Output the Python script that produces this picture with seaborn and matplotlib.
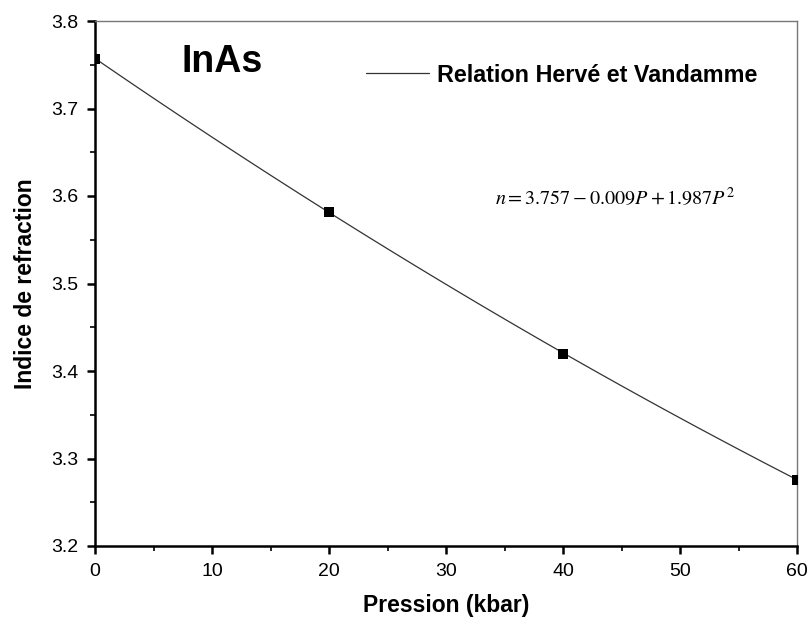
import numpy as np
import pandas as pd
import matplotlib
matplotlib.use("Agg")
import matplotlib.pyplot as plt
from matplotlib.ticker import MultipleLocator
import seaborn as sns

# Refractive index of InAs versus pressure (Hervé & Vandamme relation)
pression = [0, 20, 40, 60]
indice = [3.757, 3.582, 3.420, 3.276]
x_ticks = [0, 10, 20, 30, 40, 50, 60]
y_ticks = [3.2, 3.3, 3.4, 3.5, 3.6, 3.7, 3.8]

df = pd.DataFrame({"P": pression, "n": indice})

sns.set_style("ticks")
plt.rcParams["font.family"] = ["Liberation Sans", "DejaVu Sans"]
plt.rcParams["mathtext.fontset"] = "stix"
plt.rcParams["text.color"] = "black"
plt.rcParams["axes.labelcolor"] = "black"
plt.rcParams["xtick.color"] = "black"
plt.rcParams["ytick.color"] = "black"

fig = plt.figure(figsize=(8.11, 6.23), dpi=100)
ax = fig.add_axes([95 / 811, 1 - 546 / 623, (797 - 95) / 811, (546 - 21) / 623])

sns.regplot(
    data=df, x="P", y="n", order=2, ci=None, truncate=True, ax=ax,
    marker="s",
    scatter_kws=dict(s=45, color="black", edgecolor="black", linewidths=0, alpha=1, zorder=3),
    line_kws=dict(color="#333333", lw=0.9, label="Relation Hervé et Vandamme", zorder=2),
)

ax.set_xlim(0, 60)
ax.set_ylim(3.2, 3.8)
ax.set_xticks(x_ticks)
ax.set_yticks(y_ticks)
ax.set_xticklabels([str(t) for t in x_ticks])
ax.set_yticklabels([f"{t:.1f}" for t in y_ticks])
ax.xaxis.set_minor_locator(MultipleLocator(5))
ax.yaxis.set_minor_locator(MultipleLocator(0.05))

ax.tick_params(which="major", direction="out", length=6, width=1.8, color="black",
               labelsize=14, labelcolor="black", pad=6)
ax.tick_params(which="minor", direction="out", length=3.5, width=1.2, color="black")
ax.tick_params(top=False, right=False, which="both")

for side in ("left", "bottom"):
    ax.spines[side].set_color("black")
    ax.spines[side].set_linewidth(1.8)
for side in ("top", "right"):
    ax.spines[side].set_visible(True)
    ax.spines[side].set_color("#777777")
    ax.spines[side].set_linewidth(1.0)

ax.set_xlabel("Pression (kbar)", fontsize=16.5, fontweight="bold", labelpad=10)
ax.set_ylabel("Indice de refraction", fontsize=16.5, fontweight="bold", labelpad=10)

ax.text(182 / 811, 1 - 62 / 623, "InAs", transform=fig.transFigure,
        fontsize=27, fontweight="bold", ha="left", va="center")

ax.text(495 / 811, 1 - 198 / 623, r"$n = 3.757 - 0.009P + 1.987P^{2}$",
        transform=fig.transFigure, fontsize=14.5, ha="left", va="center")

line = ax.get_lines()[0]
ax.legend(handles=[line], loc="center left", bbox_to_anchor=(366 / 811, 1 - 75 / 623),
          bbox_transform=fig.transFigure, frameon=False, borderpad=0, borderaxespad=0,
          handlelength=2.7, handletextpad=0.35,
          prop=dict(family="Liberation Sans", weight="bold", size=16.8))

fig.savefig("out.png", dpi=100, facecolor="white")
